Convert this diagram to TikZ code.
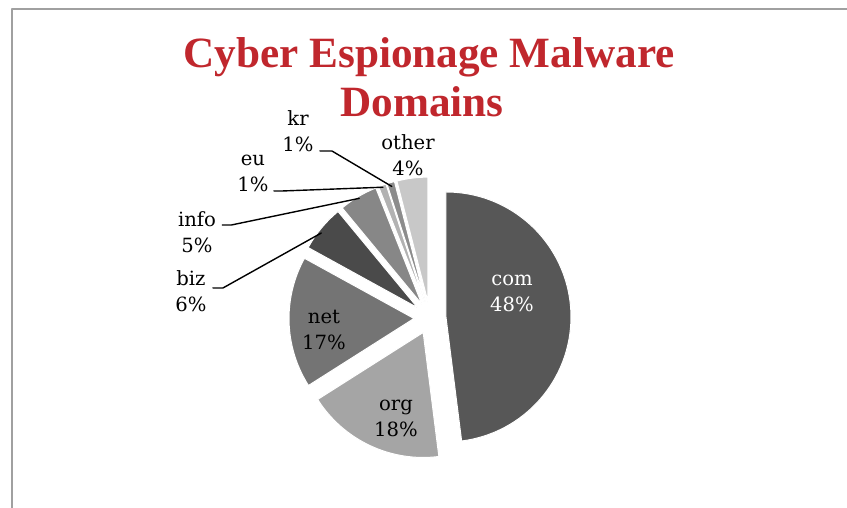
\documentclass[tikz,border=0pt]{standalone}
\usepackage{fontspec}
\setmainfont{DejaVu Serif}
\newfontfamily\titlefont{Liberation Serif}
\usepackage{xcolor}
\usetikzlibrary{calc}
\definecolor{titlered}{RGB}{192, 39, 45}
\definecolor{framegray}{RGB}{160, 160, 160}
\definecolor{comgray}{RGB}{87, 87, 87}
\definecolor{orggray}{RGB}{165, 165, 165}
\definecolor{netgray}{RGB}{116, 116, 116}
\definecolor{bizgray}{RGB}{74, 74, 74}
\definecolor{infogray}{RGB}{135, 135, 135}
\definecolor{eugray}{RGB}{178, 178, 178}
\definecolor{krgray}{RGB}{140, 140, 140}
\definecolor{othergray}{RGB}{200, 200, 200}

\begin{document}
\begin{tikzpicture}[x=0.5pt, y=0.5pt, line join=round, line cap=round,
    slice/.style={draw=white, line width=0.5pt},
    lbl/.style={align=center, inner sep=0pt, font=\fontsize{9.8}{13}\selectfont},
    ttl/.style={anchor=base, text=titlered, inner sep=0pt, font=\titlefont\bfseries\fontsize{21.6}{24.5}\selectfont},
    leader/.style={black, line width=0.7pt}]
    \useasboundingbox (0,0) rectangle (847,508);

    % Khung
    \draw[framegray, line width=1pt, line cap=butt] (12,0) -- (12,499) -- (847,499);

    % Tiêu đề
    \node[ttl] (title1) at (429,440) {Cyber Espionage Malware};
    \node[ttl] (title2) at (422,391) {Domains};

    % Các lát bánh (tách nhau theo phân giác)
    \coordinate (c) at (430,190);
    \foreach \s/\e/\col in {90/-82.8/comgray, -82.8/-147.6/orggray, -147.6/-208.8/netgray,
        -208.8/-230.4/bizgray, -230.4/-248.4/infogray, -248.4/-252/eugray,
        -252/-255.6/krgray, -255.6/-270/othergray} {
        \pgfmathsetmacro\m{(\s+\e)/2}
        \filldraw[fill=\col, slice] ($(c)+(\m:16)$) -- ++(\s:125)
            arc[start angle=\s, end angle=\e, radius=125] -- cycle;
    }

    % Nhãn bên trong
    \node[lbl, text=white] (com) at (512,215) {com\\48\%};
    \node[lbl] (org) at (396,90) {org\\18\%};
    \node[lbl] (net) at (324,178) {net\\17\%};

    % Nhãn bên ngoài và đường dẫn
    \node[lbl] (other) at (408,353) {other\\4\%};
    \node[lbl] (kr) at (298,377) {kr\\1\%};
    \node[lbl] (eu) at (253,335) {eu\\1\%};
    \node[lbl] (info) at (197,276) {info\\5\%};
    \node[lbl] (biz) at (191,217) {biz\\6\%};

    \coordinate (kr-edge) at ($(c)+(106.2:137)$);
    \coordinate (eu-edge) at ($(c)+(109.8:139)$);
    \coordinate (info-edge) at ($(c)+(120.6:139)$);
    \coordinate (biz-edge) at ($(c)+(142:138)$);

    \draw[leader] ($(kr.east)+(6,-20)$) -- ++(12,0) -- (kr-edge);
    \draw[leader] ($(eu.east)+(5,-18)$) -- ++(8,0) -- (eu-edge);
    \draw[leader] ($(info.east)+(6,7)$) -- ++(9,0) -- (info-edge);
    \draw[leader] ($(biz.east)+(6,3)$) -- ++(10,0) -- (biz-edge);
\end{tikzpicture}
\end{document}
